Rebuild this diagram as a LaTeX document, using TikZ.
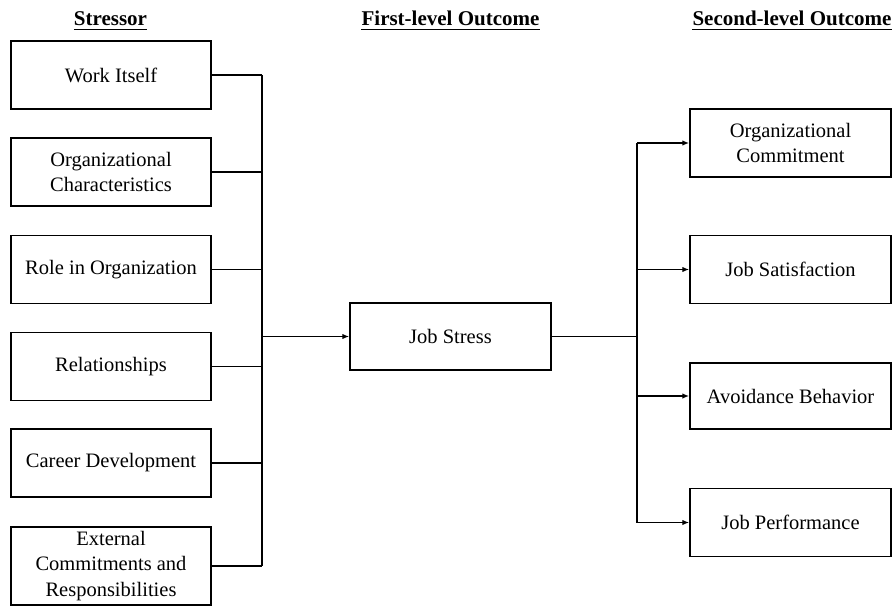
\documentclass[tikz,border=0pt]{standalone}
\usepackage{fontspec}
\setmainfont{Liberation Serif}
\usetikzlibrary{arrows.meta}
\begin{document}
\begin{tikzpicture}[x=1pt,y=-1pt,
  box/.style={draw, line width=1.5pt, rectangle, minimum width=200pt, minimum height=68pt,
    align=center, inner sep=2pt, font=\fontsize{20.5}{25.5}\selectfont},
  head/.style={inner sep=0pt, anchor=base, font=\fontsize{21}{25}\selectfont\bfseries},
  conn/.style={line width=1.5pt},
  arr/.style={line width=1.5pt, -{Latex[length=7pt,width=5.5pt]}}]
\useasboundingbox (0,0) rectangle (896,607);

% headers
\node[head] (h1) at (110.5,26) {Stressor};
\node[head] (h2) at (450.5,26) {First-level Outcome};
\node[head] (h3) at (792,26) {Second-level Outcome};
\foreach \h in {h1,h2,h3}
  \draw[line width=1.6pt] ([yshift=-3.5pt]\h.base west) -- ([yshift=-3.5pt]\h.base east);

% stressors
\node[box] (s1) at (111,75) {Work Itself};
\node[box] (s2) at (111,172) {Organizational\\Characteristics};
\node[box] (s3) at (111,269.5) {Role in Organization};
\node[box] (s4) at (111,366.5) {Relationships};
\node[box] (s5) at (111,463) {Career Development};
\node[box, minimum height=78pt] (s6) at (111,566) {External\\Commitments and\\Responsibilities};

% first-level
\node[box, minimum width=201pt, minimum height=67pt] (js) at (450.5,336.5) {Job Stress};

% second-level
\node[box, minimum width=201pt] (o1) at (790.5,143) {Organizational\\Commitment};
\node[box, minimum width=201pt] (o2) at (790.5,269.5) {Job Satisfaction};
\node[box, minimum width=201pt, minimum height=66pt] (o3) at (790.5,396) {Avoidance Behavior};
\node[box, minimum width=201pt] (o4) at (790.5,522.5) {Job Performance};

% left bus
\coordinate (busL) at (262,336.5);
\foreach \s in {s1,s2,s3,s4,s5,s6}
  \draw[conn] (\s.east) -- (\s.east -| busL);
\draw[conn] (s1.east -| busL) -- (s6.east -| busL);
\draw[arr] (busL) -- (js.west);

% right bus
\coordinate (busR) at (637,336.5);
\draw[conn] (js.east) -- (busR);
\draw[conn] (o1.west -| busR) -- (o4.west -| busR);
\foreach \o in {o1,o2,o3,o4}
  \draw[arr] (\o.west -| busR) -- (\o.west);
\end{tikzpicture}
\end{document}
